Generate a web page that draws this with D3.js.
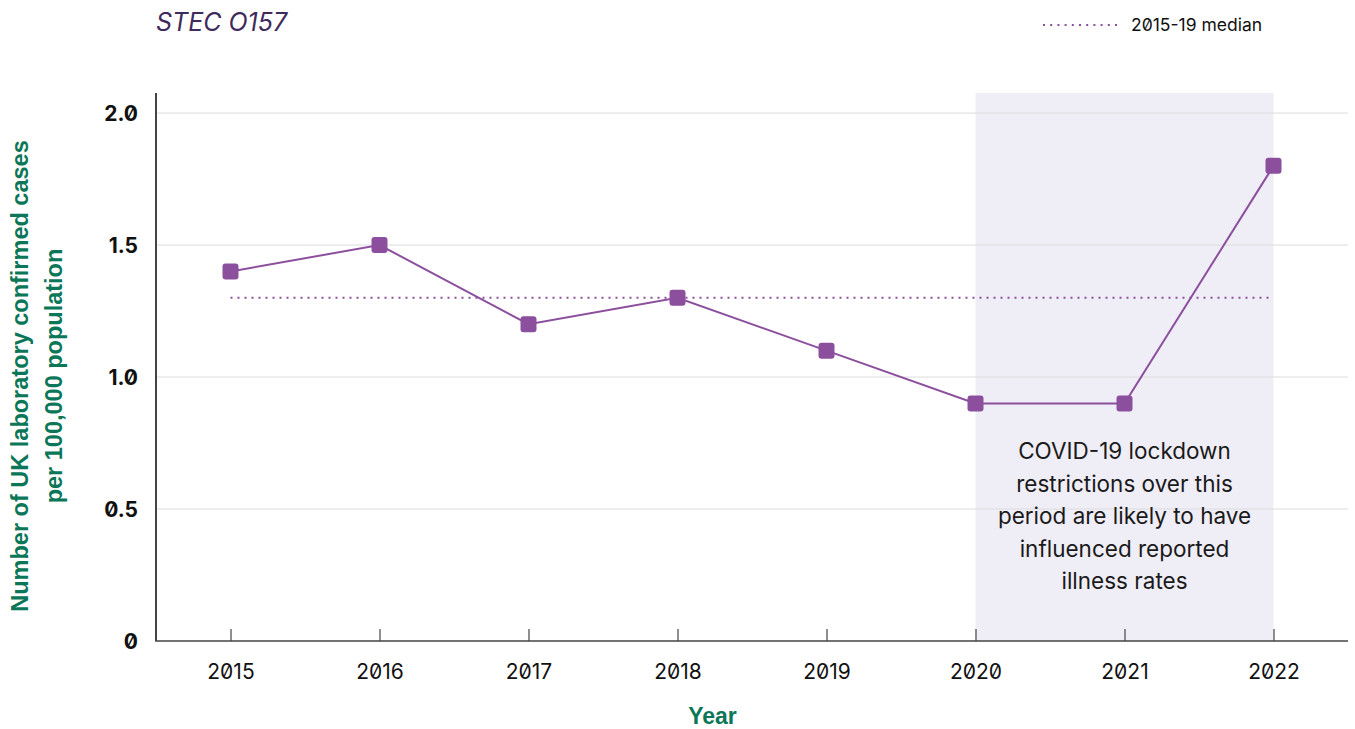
<!DOCTYPE html>
<html><head><meta charset="utf-8">
<script src="https://cdn.jsdelivr.net/npm/d3@7"></script>
<style>
body{margin:0;background:#fff;}
svg text{font-family:Inter,"Noto Sans",sans-serif;font-feature-settings:"zero" 1;}
svg text.ax{font-family:"Liberation Sans",Arial,sans-serif;}
</style></head>
<body><svg id="c" width="1355" height="729"></svg>
<script>
const years = ["2015","2016","2017","2018","2019","2020","2021","2022"];
const rates = [1.4,1.5,1.2,1.3,1.1,0.9,0.9,1.8];
const median = 1.3;
const medianYears = ["2015","2022"];
const shadeYears = ["2020","2022"];
const yTicks = [0,0.5,1.0,1.5,2.0];
const noteLines = ["COVID-19 lockdown","restrictions over this","period are likely to have","influenced reported","illness rates"];

const svg = d3.select("#c");
const L=156,R=1348,T=93,B=641;
const x = d3.scalePoint().domain(years).range([L,R]).padding(0.5);
const y = d3.scaleLinear().domain([0,2.076]).range([B,T]);
const purple="#8c4f9d";

// shaded region
svg.append("rect").attr("x",x(shadeYears[0])).attr("y",T)
  .attr("width",x(shadeYears[1])-x(shadeYears[0])).attr("height",B-T).attr("fill","#efedf6");

// gridlines
svg.append("g").selectAll("line").data(yTicks.filter(d=>d>0)).join("line")
  .attr("x1",L).attr("x2",R).attr("y1",d=>y(d)).attr("y2",d=>y(d))
  .attr("stroke","#dcdcdc").attr("stroke-width",1);

// y axis
const ya = svg.append("g").attr("transform",`translate(${L},0)`)
  .call(d3.axisLeft(y).tickValues(yTicks).tickSize(0).tickPadding(18).tickFormat(d=>d===0?"0":d3.format(".1f")(d)));
ya.select(".domain").attr("stroke","#444").attr("stroke-width",2).attr("d",`M0,${T}V${B}`);
ya.selectAll("text").attr("font-size",21).attr("font-weight","bold").attr("fill","#111").attr("dy","0.35em");

// x axis
const xa = svg.append("g").attr("transform",`translate(0,${B})`)
  .call(d3.axisBottom(x).tickSize(-12).tickPadding(20));
xa.select(".domain").attr("stroke","#444").attr("stroke-width",1.5).attr("d",`M${L},-12V0H${R}`);
xa.selectAll(".tick line").attr("stroke","#444").attr("stroke-width",1.2);
xa.selectAll("text").attr("font-size",21).attr("fill","#111").attr("dy","0.85em");

// median line
svg.append("line").attr("x1",x(medianYears[0])).attr("x2",x(medianYears[1]))
  .attr("y1",y(median)).attr("y2",y(median))
  .attr("stroke",purple).attr("stroke-width",2).attr("stroke-dasharray","2,5");

// series line
const data = years.map((yr,i)=>({yr,v:rates[i]}));
svg.append("path").datum(data).attr("fill","none").attr("stroke",purple).attr("stroke-width",2)
  .attr("d",d3.line().x(d=>x(d.yr)).y(d=>y(d.v)));
svg.append("g").selectAll("rect").data(data).join("rect")
  .attr("x",d=>x(d.yr)-8).attr("y",d=>y(d.v)-8).attr("width",16).attr("height",16)
  .attr("rx",3).attr("fill",purple);

// annotation
const note = svg.append("text").attr("text-anchor","middle").attr("font-size",22.5).attr("fill","#1a1a1a");
noteLines.forEach((t,i)=>note.append("tspan").attr("x",x("2021")).attr("y",459+i*32.5).text(t));

// title
svg.append("text").attr("x",156).attr("y",31).attr("font-size",25).attr("font-style","italic")
  .attr("fill","#3f2b5b").text("STEC O157");

// legend
svg.append("line").attr("x1",1043).attr("x2",1117).attr("y1",25).attr("y2",25)
  .attr("stroke",purple).attr("stroke-width",2).attr("stroke-dasharray","2,5.2");
svg.append("text").attr("x",1131).attr("y",31).attr("font-size",17.5).attr("fill","#111").text("2015-19 median");

// axis titles
const green="#0b7658";
const yt = svg.append("text").attr("class","ax").attr("transform",`translate(0,376) rotate(-90)`).attr("text-anchor","middle")
  .attr("font-size",23.5).attr("font-weight","bold").attr("fill",green);
yt.append("tspan").attr("x",0).attr("y",28).text("Number of UK laboratory confirmed cases");
yt.append("tspan").attr("x",0).attr("y",62).text("per 100,000 population");
svg.append("text").attr("class","ax").attr("x",x("2018")+35).attr("y",724).attr("text-anchor","middle")
  .attr("font-size",23).attr("font-weight","bold").attr("fill",green).text("Year");
</script></body></html>
